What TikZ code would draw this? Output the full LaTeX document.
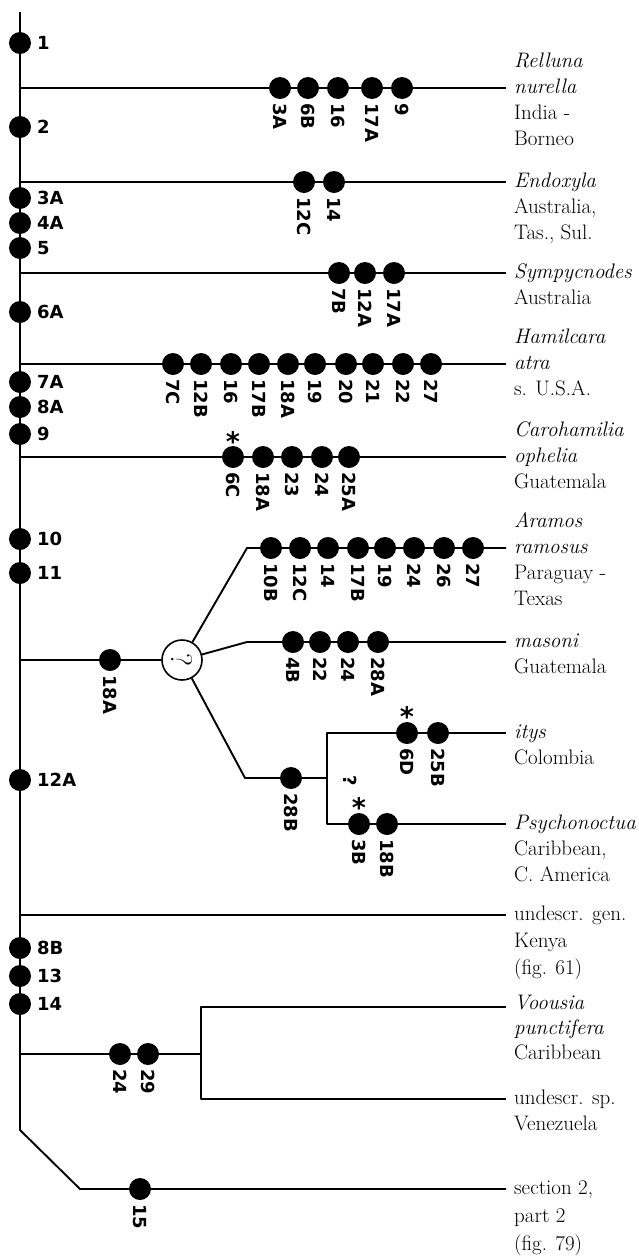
\documentclass[tikz,border=0pt]{standalone}
\usepackage{fontspec}
\newfontfamily\lblfont{DejaVu Sans}
\begin{document}
\begin{tikzpicture}[x=1pt,y=-1pt,
  branch/.style={line width=1.9pt},
  dot/.style={circle, fill=black, draw=none, inner sep=0pt, minimum size=22pt},
  mlbl/.style={anchor=west, inner sep=0pt, font=\lblfont\bfseries\fontsize{18}{18}\selectfont},
  clbl/.style={anchor=west, rotate=-90, inner sep=0pt, font=\lblfont\bfseries\fontsize{18}{18}\selectfont},
  taxon/.style={anchor=west, inner sep=0pt, text height=16pt, text depth=5pt, font=\fontsize{21}{26}\selectfont},
  star/.style={inner sep=0pt, font=\lblfont\bfseries\fontsize{27}{27}\selectfont},
  qcirc/.style={circle, draw, line width=1.6pt, fill=white, minimum size=40pt, inner sep=0pt}]
\useasboundingbox (0,0) rectangle (638,1256);

% row of character dots on a branch: prefix, y, list of x/label
\newcommand\charrow[3]{%
  \foreach \cx/\cl [count=\ci] in {#3} {%
    \node[dot] (#1\ci) at (\cx,#2) {};
    \node[clbl] (#1\ci-l) at ([yshift=-15pt]#1\ci.center) {\cl};
  }}

% ---- stem with its lower bend ----
\coordinate (top) at (20,12);
\coordinate (stemend) at (20,1130);
\coordinate (bend) at (80,1189);
\coordinate (secR) at (506,1189);
\draw[branch, line join=round] (top) -- (stemend) -- (bend) -- (secR);

% ---- straight branches off the stem ----
\foreach \name/\by in {rel/88, endo/182, symp/273, hami/364, caro/457, ugen/915} {
  \coordinate (\name L) at (20,\by);
  \coordinate (\name R) at (506,\by);
  \draw[branch] (\name L) -- (\name R);
}

% ---- Aramos group ----
\coordinate (aramL) at (20,660);
\node[qcirc] (q) at (182,660) {};
\node[rotate=-90, inner sep=0pt, font=\fontsize{30}{30}\selectfont] (qmark) at (q) {?};
\draw[branch] (aramL) -- (q);
\coordinate (ramK) at (247,548);
\coordinate (ramR) at (506,548);
\draw[branch, line join=round] (q) -- (ramK) -- (ramR);
\coordinate (masK) at (247,642);
\coordinate (masR) at (506,642);
\draw[branch, line join=round] (q) -- (masK) -- (masR);
\coordinate (lowK) at (245,778);
\coordinate (lowJ) at (327,778);
\draw[branch, line join=round] (q) -- (lowK) -- (lowJ);
\coordinate (itysK) at (327,733);
\coordinate (itysR) at (506,733);
\coordinate (psyK) at (327,824);
\coordinate (psyR) at (506,824);
\draw[branch, line join=round] (itysR) -- (itysK) -- (psyK) -- (psyR);

% ---- Voousia group ----
\coordinate (vooL) at (20,1054);
\coordinate (vooJ) at (201,1054);
\draw[branch] (vooL) -- (vooJ);
\coordinate (vooK) at (201,1007);
\coordinate (vooR) at (506,1007);
\coordinate (uspK) at (201,1099);
\coordinate (uspR) at (506,1099);
\draw[branch, line join=round] (vooR) -- (vooK) -- (uspK) -- (uspR);

% ---- character states on the stem ----
\foreach \my/\ml [count=\mi] in {43/1, 127/2, 198/3A, 223/4A, 248/5, 312/6A, 382/7A, 407/8A, 434/9,
    539/10, 573/11, 780/12A, 948/8B, 976/13, 1004/14} {
  \node[dot] (m\mi) at (20,\my) {};
  \node[mlbl] (m\mi-l) at (37,\my) {\ml};
}

% ---- character states on the branches ----
\charrow{rel}{88}{280/3A, 308/6B, 338/16, 372/17A, 402/9}
\charrow{endo}{182}{304/12C, 334/14}
\charrow{symp}{273}{339/7B, 365/12A, 394/17A}
\charrow{hami}{364}{173/7C, 201/12B, 231/16, 259/17B, 288/18A, 315/19, 346/20, 373/21, 403/22, 431/27}
\charrow{caro}{457}{233/6C, 263/18A, 292/23, 322/24, 349/25A}
\charrow{ram}{548}{271/10B, 300/12C, 328/14, 358/17B, 385/19, 414/24, 444/26, 473/27}
\charrow{mas}{642}{293/4B, 320/22, 348/24, 378/28A}
\charrow{aram}{660}{110/18A}
\charrow{low}{778}{291/28B}
\charrow{itys}{733}{407/6D, 438/25B}
\charrow{psy}{824}{359/3B, 387/18B}
\charrow{voo}{1054}{120/24, 148/29}
\charrow{sec}{1189}{140/15}

% ---- homoplasy marks ----
\node[star] (st1) at (233,441) {*};
\node[star] (st2) at (407,716) {*};
\node[star] (st3) at (359,807) {*};
\node[clbl, anchor=center] (qm2) at (350,781) {?};

% ---- taxa ----
\foreach \ty/\tt [count=\ti] in {62/{\textit{Relluna}}, 88/{\textit{nurella}}, 114/{India -}, 140/{Borneo},
    182/{\textit{Endoxyla}}, 208/{Australia,}, 234/{Tas., Sul.},
    273/{\textit{Sympycnodes}}, 299/{Australia},
    338/{\textit{Hamilcara}}, 364/{\textit{atra}}, 390/{s. U.S.A.},
    431/{\textit{Carohamilia}}, 457/{\textit{ophelia}}, 483/{Guatemala},
    522/{\textit{Aramos}}, 548/{\textit{ramosus}}, 574/{Paraguay -}, 600/{Texas},
    642/{\textit{masoni}}, 668/{Guatemala},
    733/{\textit{itys}}, 759/{Colombia},
    824/{\textit{Psychonoctua}}, 850/{Caribbean,}, 876/{C. America},
    915/{undescr. gen.}, 942/{Kenya}, 969/{(fig. 61)},
    1004/{\textit{Voousia}}, 1029/{\textit{punctifera}}, 1054/{Caribbean},
    1099/{undescr. sp.}, 1125/{Venezuela},
    1189/{section 2,}, 1217/{part 2}, 1245/{(fig. 79)}} {
  \node[taxon] (tx\ti) at (514,\ty) {\tt};
}
\end{tikzpicture}
\end{document}
